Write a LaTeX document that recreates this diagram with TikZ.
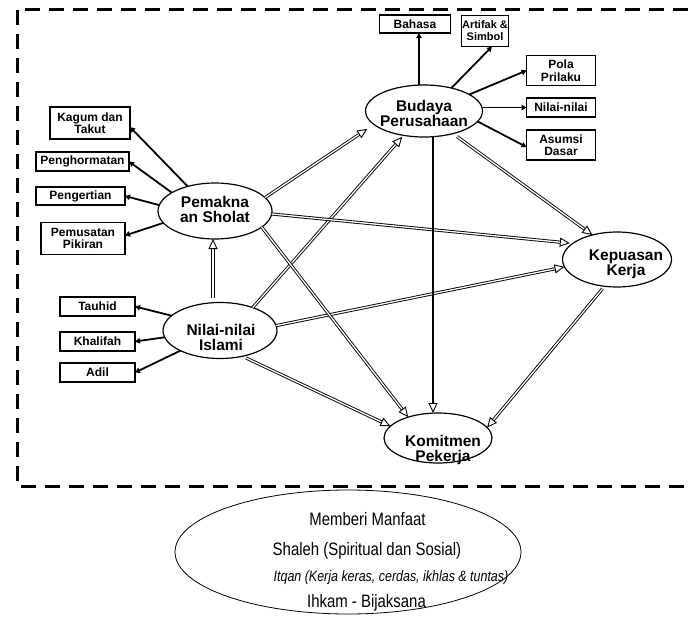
\documentclass[tikz,border=0pt]{standalone}
\usepackage{fontspec}
\setmainfont{Liberation Sans}
\newfontfamily\narrowfont[FakeStretch=0.83]{Liberation Sans}
\usetikzlibrary{arrows.meta,shapes.geometric,calc}
\begin{document}
\begin{tikzpicture}[x=1pt,y=-1pt,
  frame/.style={line width=3pt, dash pattern=on 15pt off 9pt},
  ell/.style={draw, ellipse, line width=1.2pt, inner sep=0pt, outer sep=0pt},
  elltxt/.style={inner sep=0pt, align=center, font=\fontsize{15.5}{15}\selectfont\bfseries},
  box/.style={draw, rectangle, line width=1.3pt, inner sep=0pt, outer sep=0pt, align=center,
    font=\fontsize{12}{12.5}\selectfont\bfseries},
  arr/.style={line width=1.8pt, -{Triangle[length=5pt,width=5.5pt]}},
  dbl/.style={double=white, double distance=1.3pt, line width=0.9pt,
    -{Triangle[open,length=10pt,width=9pt,line width=0.9pt]}},
  thk/.style={line width=2.6pt, -{Triangle[open,length=10pt,width=9pt,line width=0.9pt]}},
  btxt/.style={inner sep=0pt, anchor=base, font=\narrowfont\fontsize{18}{18}\selectfont},
  bital/.style={inner sep=0pt, anchor=base, font=\narrowfont\fontsize{15}{15}\selectfont\itshape}
]
\useasboundingbox (0,0) rectangle (688,616);
% dashed frame
\draw[frame] (688,9) -- (17,9) -- (17,486) -- (688,486);

% ellipses
\node[ell, minimum width=117pt, minimum height=52pt] (bud) at (424,111) {};
\node[elltxt] (budt) at (424,113) {Budaya\\Perusahaan};
\node[ell, minimum width=114pt, minimum height=56pt] (pem) at (215,211) {};
\node[elltxt] (pemt) at (215,209.5) {Pemakna\\an Sholat};
\node[ell, minimum width=114pt, minimum height=56pt] (nil) at (220,330.5) {};
\node[elltxt] (nilt) at (221,337) {Nilai-nilai\\Islami};
\node[ell, minimum width=109pt, minimum height=55pt] (kep) at (617,259.5) {};
\node[elltxt] (kept) at (626,264) {Kepuasan\\Kerja};
\node[ell, minimum width=108pt, minimum height=50pt] (kom) at (438,438) {};
\node[elltxt] (komt) at (443,450) {Komitmen\\Pekerja};

% boxes
\node[box, minimum width=80pt, minimum height=32pt] (kag) at (90,123) {Kagum dan\\Takut};
\node[box, minimum width=93pt, minimum height=19pt] (peng) at (82.5,161.5) {Penghormatan};
\node[box, minimum width=89pt, minimum height=18pt] (pgt) at (80.5,196) {Pengertian};
\node[box, minimum width=84pt, minimum height=32pt] (pmst) at (83,238.5) {Pemusatan\\Pikiran};
\node[box, minimum width=75pt, minimum height=19pt] (tau) at (97.5,306.5) {Tauhid};
\node[box, minimum width=75pt, minimum height=19pt] (kha) at (97.5,341.5) {Khalifah};
\node[box, minimum width=75pt, minimum height=19pt] (adil) at (97.5,372.5) {Adil};
\node[box, minimum width=71pt, minimum height=18pt] (bah) at (415,24) {Bahasa};
\node[box, minimum width=47pt, minimum height=31pt, font=\fontsize{11}{12}\selectfont\bfseries] (art) at (485,31) {Artifak \&\\Simbol};
\node[box, minimum width=69pt, minimum height=30pt] (pola) at (561,70.5) {Pola\\Prilaku};
\node[box, minimum width=69pt, minimum height=19pt] (nn) at (561,107.5) {Nilai-nilai};
\node[box, minimum width=69pt, minimum height=30pt] (asu) at (561,145) {Asumsi\\Dasar};

% indicator arrows
\draw[arr] (pem.138) -- ($(kag.east)+(0,4)$);
\draw[arr] (pem.157) -- (peng.east);
\draw[arr] (pem.174) -- (pgt.east);
\draw[arr] (pem.193) -- ($(pmst.east)+(0,-3)$);
\draw[arr] (nil.163) -- (tau.east);
\draw[arr] (nil.187) -- (kha.east);
\draw[arr] (nil.207) -- (adil.east);
\coordinate (bahs) at ($(bah.south)+(4,0)$);
\draw[arr] (bahs |- bud.north) -- (bahs);
\draw[arr] (bud.40) -- ($(art.south)+(7,0)$);
\draw[arr] (bud.20) -- (pola.west);
\draw[arr] (bud.east |- nn.west) -- (nn.west);
\draw[arr] (bud.-11) -- ($(asu.west)+(0,2)$);

% structural paths
\draw[dbl, shorten >=8pt] (pem.15) -- (bud.195);
\draw[dbl, shorten >=2pt] (nil.35) -- (bud.230);
\draw[dbl, shorten >=3pt] (pem.-3) -- (kep.160);
\draw[dbl] (nil.5) -- (kep.188);
\draw[dbl, shorten <=5pt] (bud.-38) -- (kep.135);
\draw[dbl, shorten <=3pt] (kep.245) -- (kom.12);
\draw[dbl] (pem.-19) -- (kom.145);
\draw[dbl, shorten <=4pt] (nil.-49) -- (kom.166);
\coordinate (komn) at ($(kom.north)+(-5,0)$);
\draw[thk] (komn |- bud.south) -- (komn);
\coordinate (pems) at ($(pem.south)+(-2,0)$);
\draw[dbl, double distance=1.8pt, line width=0.8pt, shorten <=5pt] (pems |- nil.north) -- (pems);

% bottom ellipse
\node[draw, ellipse, line width=0.8pt, inner sep=0pt, minimum width=346pt, minimum height=124pt] (base) at (348,552) {};
\node[btxt] (b1) at (367.5,525) {Memberi Manfaat};
\node[btxt] (b2) at (367,555) {Shaleh (Spiritual dan Sosial)};
\node[bital] (b3) at (391,581) {Itqan (Kerja keras, cerdas, ikhlas \& tuntas)};
\node[btxt] (b4) at (366.5,607) {Ihkam - Bijaksana};
\end{tikzpicture}
\end{document}
